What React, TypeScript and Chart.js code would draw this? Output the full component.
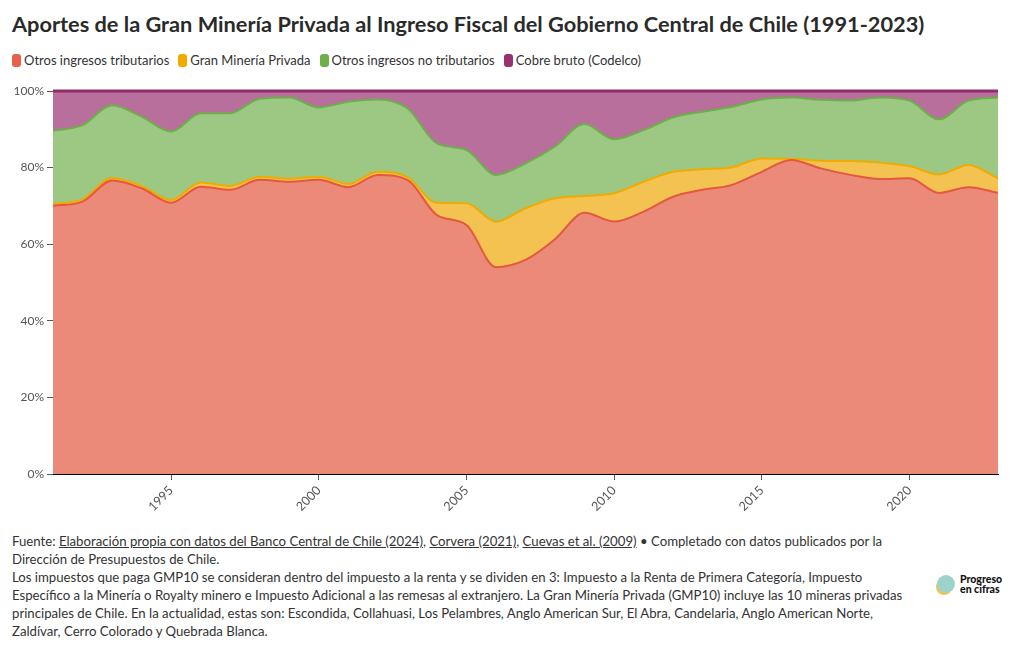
import React, { useEffect, useRef } from "react";
import { Chart, registerables } from "chart.js";

Chart.register(...registerables);

const years = [
  1991, 1992, 1993, 1994, 1995, 1996, 1997, 1998, 1999, 2000, 2001, 2002, 2003,
  2004, 2005, 2006, 2007, 2008, 2009, 2010, 2011, 2012, 2013, 2014, 2015, 2016,
  2017, 2018, 2019, 2020, 2021, 2022, 2023,
];
const otrosTributarios = [
  70.0, 71.1, 76.6, 74.6, 70.8, 75.0, 74.2, 76.8, 76.3, 76.8, 74.9, 78.1, 76.8,
  67.6, 65.0, 54.0, 55.9, 61.3, 68.2, 65.9, 68.5, 72.4, 74.2, 75.5, 78.9, 82.0,
  79.8, 78.1, 77.0, 77.2, 73.4, 74.9, 73.4,
];
const granMineria = [
  0.5, 0.6, 0.7, 0.6, 0.7, 1.1, 1.0, 0.8, 0.8, 0.8, 0.8, 0.8, 0.7, 3.2, 5.7,
  11.9, 13.5, 10.7, 4.4, 7.4, 7.8, 6.5, 5.4, 4.6, 3.5, 0.3, 2.0, 3.6, 4.3, 3.2,
  4.8, 5.8, 3.8,
];
const otrosNoTributarios = [
  19.1, 19.4, 19.0, 18.1, 17.9, 18.1, 19.0, 20.4, 21.2, 18.1, 21.5, 18.9, 18.0,
  15.5, 13.9, 12.2, 11.7, 13.5, 18.8, 14.1, 13.5, 14.2, 15.0, 15.8, 15.4, 16.0,
  15.9, 15.8, 17.0, 17.1, 14.4, 16.8, 21.1,
];
const cobreBruto = [
  10.4, 8.9, 3.7, 6.7, 10.6, 5.8, 5.8, 2.0, 1.7, 4.3, 2.8, 2.2, 4.5, 13.7, 15.4,
  21.9, 18.9, 14.5, 8.6, 12.6, 10.2, 6.9, 5.4, 4.1, 2.2, 1.7, 2.3, 2.5, 1.7, 2.5,
  7.4, 2.5, 1.7,
];
const xTickYears = [1995, 2000, 2005, 2010, 2015, 2020];
const yTickValues = [0, 20, 40, 60, 80, 100];

const seriesNames = [
  "Otros ingresos tributarios",
  "Gran Minería Privada",
  "Otros ingresos no tributarios",
  "Cobre bruto (Codelco)",
];
const seriesValues = [otrosTributarios, granMineria, otrosNoTributarios, cobreBruto];
const lineColors = ["#E4583E", "#F0AA00", "#6DAF4A", "#8E2F6B"];
const fillColors = ["#EC8A7A", "#F3C250", "#9CC884", "#B86F9B"];
const swatchColors = ["#E8604A", "#F0AA00", "#6DB04A", "#96336E"];

const FONT = "Lato, 'Noto Sans', sans-serif";

export default function App() {
  const canvasRef = useRef<HTMLCanvasElement | null>(null);

  useEffect(() => {
    const canvas = canvasRef.current;
    if (!canvas) return;
    const chart = new Chart(canvas, {
      type: "line",
      data: {
        datasets: seriesValues.map((vals, i) => ({
          label: seriesNames[i],
          data: years.map((x, j) => ({ x, y: vals[j] })),
          borderColor: lineColors[i],
          backgroundColor: fillColors[i],
          fill: i === 0 ? "origin" : "-1",
          borderWidth: i === 3 ? 3 : 2,
          pointRadius: 0,
          pointHoverRadius: 0,
          cubicInterpolationMode: "monotone",
          clip: i === 3 ? { left: 0, right: 0, top: 3, bottom: 0 } : undefined,
        })),
      },
      options: {
        animation: false,
        responsive: false,
        layout: { padding: { top: 21, right: 22, left: 0, bottom: 0 } },
        plugins: {
          legend: { display: false },
          title: { display: false },
          tooltip: { enabled: false },
        },
        scales: {
          x: {
            type: "linear",
            min: 1991,
            max: 2023,
            afterBuildTicks: (s: any) => {
              s.ticks = xTickYears.map((v) => ({ value: v }));
            },
            afterFit: (s: any) => {
              s.height = 46;
            },
            ticks: {
              callback: (v: any) => String(v),
              minRotation: 45,
              maxRotation: 45,
              color: "#555",
              font: { size: 12.5, family: FONT },
              padding: 3,
            },
            grid: { drawOnChartArea: false, tickLength: 6, color: "#555" },
            border: { color: "#000", width: 1 },
          },
          y: {
            stacked: true,
            min: 0,
            max: 100,
            afterBuildTicks: (s: any) => {
              s.ticks = yTickValues.map((v) => ({ value: v }));
            },
            afterFit: (s: any) => {
              s.width = 53;
            },
            ticks: {
              callback: (v: any) => v + "%",
              color: "#555",
              font: { size: 12, family: FONT },
              padding: 3,
            },
            grid: { drawOnChartArea: false, tickLength: 6, color: "#555" },
            border: { color: "#000", width: 1 },
          },
        },
      },
    });
    return () => chart.destroy();
  }, []);

  const link: React.CSSProperties = { textDecoration: "underline" };

  return (
    <div style={{ position: "absolute", left: 0, top: 0, width: 1020, height: 650, fontFamily: FONT, color: "#333" }}>
      <div
        style={{
          position: "absolute",
          left: 12,
          top: 8,
          fontSize: 21.75,
          fontWeight: 700,
          color: "#2a2a2a",
          whiteSpace: "nowrap",
          lineHeight: "32px",
        }}
      >
        Aportes de la Gran Minería Privada al Ingreso Fiscal del Gobierno Central de Chile (1991-2023)
      </div>
      <div
        style={{
          position: "absolute",
          left: 12,
          top: 51,
          display: "flex",
          alignItems: "center",
          fontSize: 13,
          color: "#333",
          whiteSpace: "nowrap",
          lineHeight: "18px",
        }}
      >
        {seriesNames.map((n, i) => (
          <span key={n} style={{ display: "flex", alignItems: "center", marginRight: 9 }}>
            <span
              style={{
                display: "inline-block",
                width: 9,
                height: 13,
                borderRadius: 3,
                background: swatchColors[i],
                marginRight: 3,
              }}
            />
            {n}
          </span>
        ))}
      </div>
      <canvas
        ref={canvasRef}
        width={1020}
        height={450}
        style={{ position: "absolute", left: 0, top: 70, width: 1020, height: 450 }}
      />
      <div
        style={{
          position: "absolute",
          left: 12,
          top: 532,
          fontSize: 13.2,
          lineHeight: "18px",
          color: "#333",
          whiteSpace: "nowrap",
        }}
      >
        <div>
          Fuente: <span style={link}>Elaboración propia con datos del Banco Central de Chile (2024)</span>,{" "}
          <span style={link}>Corvera (2021)</span>, <span style={link}>Cuevas et al. (2009)</span> • Completado con
          datos publicados por la
        </div>
        <div>Dirección de Presupuestos de Chile.</div>
        <div>
          Los impuestos que paga GMP10 se consideran dentro del impuesto a la renta y se dividen en 3: Impuesto a la
          Renta de Primera Categoría, Impuesto
        </div>
        <div>
          Específico a la Minería o Royalty minero e Impuesto Adicional a las remesas al extranjero. La Gran Minería
          Privada (GMP10) incluye las 10 mineras privadas
        </div>
        <div>
          principales de Chile. En la actualidad, estas son: Escondida, Collahuasi, Los Pelambres, Anglo American Sur,
          El Abra, Candelaria, Anglo American Norte,
        </div>
        <div>Zaldívar, Cerro Colorado y Quebrada Blanca.</div>
      </div>
      <div style={{ position: "absolute", left: 937, top: 574, display: "flex", alignItems: "center" }}>
        <div
          style={{
            width: 18,
            height: 18,
            borderRadius: "50%",
            background: "#9ED3CB",
            marginRight: 5,
            boxShadow: "-2px 3px 0 -1px #F3C250",
          }}
        />
        <div style={{ fontSize: 10.5, fontWeight: 900, color: "#111", lineHeight: "10px" }}>
          Progreso
          <br />
          en cifras
        </div>
      </div>
    </div>
  );
}
